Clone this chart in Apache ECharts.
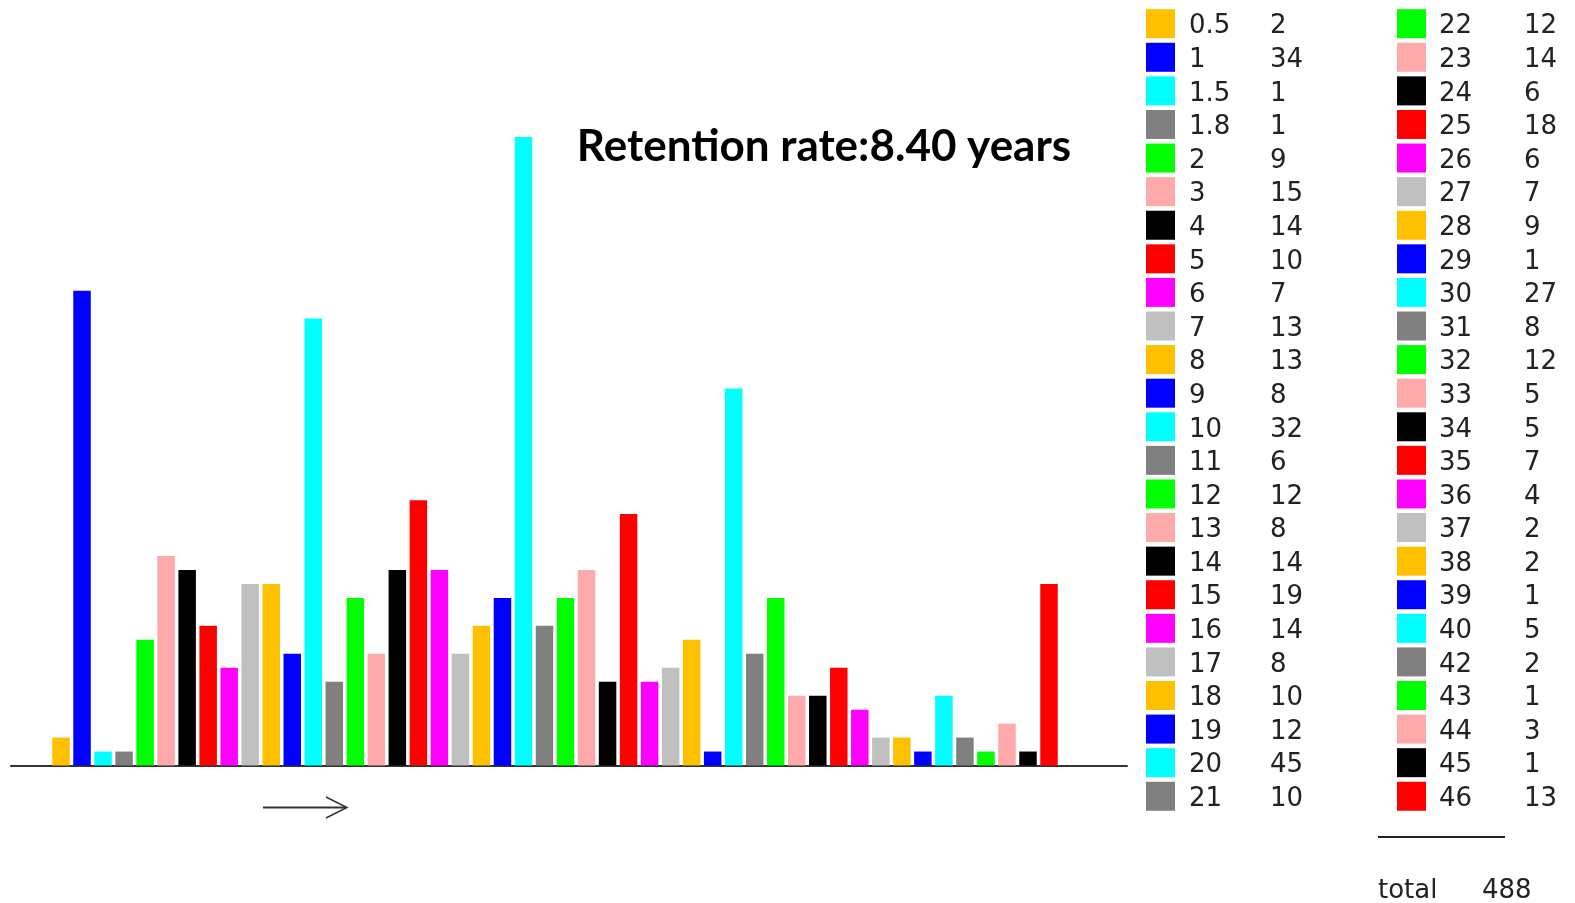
<!DOCTYPE html>
<html><head><meta charset="utf-8">
<script src="https://cdn.jsdelivr.net/npm/echarts@6/dist/echarts.min.js"></script>
<style>html,body{margin:0;padding:0;background:#fff}#c{width:1575px;height:903px}</style>
</head><body><div id="c"></div>
<script>
const categories = ['0.5','1','1.5','1.8','2','3','4','5','6','7','8','9','10','11','12','13','14','15','16','17','18','19','20','21',
  '22','23','24','25','26','27','28','29','30','31','32','33','34','35','36','37','38','39','40','42','43','44','45','46'];
const counts = [2,34,1,1,9,15,14,10,7,13,13,8,32,6,12,8,14,19,14,8,10,12,45,10,
  12,14,6,18,6,7,9,1,27,8,12,5,5,7,4,2,2,1,5,2,1,3,1,13];
const palette = ['#FFC000','#0000FF','#00FFFF','#808080','#00FF00','#FFAAAA','#000000','#FF0000','#FF00FF','#C0C0C0'];
const titleText = 'Retention rate:8.40 years';
const totalLabel = 'total';
const totalValue = counts.reduce((a,b)=>a+b,0);

const chart = echarts.init(document.getElementById('c'));
const barData = counts.map((v,i)=>({value:[i,v], itemStyle:{color:palette[i%palette.length]}}));

const graphics = [];
const rowsPerCol = 24, rowPitch = 33.59, row0 = 23.7;
const cols = [{sq:1146, lab:1189, val:1270},{sq:1397, lab:1439, val:1524}];
const F = '26px "DejaVu Sans"';
categories.forEach((c,i)=>{
  const col = cols[Math.floor(i/rowsPerCol)];
  const y = row0 + (i%rowsPerCol)*rowPitch;
  graphics.push({type:'rect', shape:{x:col.sq, y:y-14.5, width:29, height:29}, style:{fill:palette[i%palette.length]}});
  graphics.push({type:'text', x:col.lab, y:y+3, style:{text:c, font:F, fill:'#222', textVerticalAlign:'middle'}});
  graphics.push({type:'text', x:col.val, y:y+3, style:{text:String(counts[i]), font:F, fill:'#222', textVerticalAlign:'middle'}});
});
graphics.push({type:'line', shape:{x1:1378,y1:837,x2:1505,y2:837}, style:{stroke:'#222', lineWidth:2}});
graphics.push({type:'text', x:1378, y:891, style:{text:totalLabel, font:F, fill:'#222', textVerticalAlign:'middle'}});
graphics.push({type:'text', x:1482, y:891, style:{text:String(totalValue), font:F, fill:'#222', textVerticalAlign:'middle'}});
// arrow
graphics.push({type:'line', shape:{x1:263,y1:807.5,x2:346,y2:807.5}, style:{stroke:'#333', lineWidth:2}});
graphics.push({type:'polyline', shape:{points:[[326,797],[347,807.5],[326,818]]}, style:{stroke:'#333', lineWidth:1.5, fill:null}});
// title
graphics.push({type:'text', x:824, y:147, style:{text:titleText, font:'bold 44px Lato', fill:'#000', textAlign:'center', textVerticalAlign:'middle'}});

chart.setOption({
  animation:false,
  grid:{left:11, right:1575-1127, top:137, bottom:903-765.5},
  xAxis:{type:'value', min:-2.379, max:50.71, show:true, axisLine:{show:true, onZero:false, lineStyle:{color:'#333', width:2}},
    axisTick:{show:false}, axisLabel:{show:false}, splitLine:{show:false}},
  yAxis:{type:'value', min:0, max:45, show:false, splitLine:{show:false}},
  series:[{type:'bar', data:barData, barWidth:17.5, z:1}],
  graphic:graphics
});
</script></body></html>
